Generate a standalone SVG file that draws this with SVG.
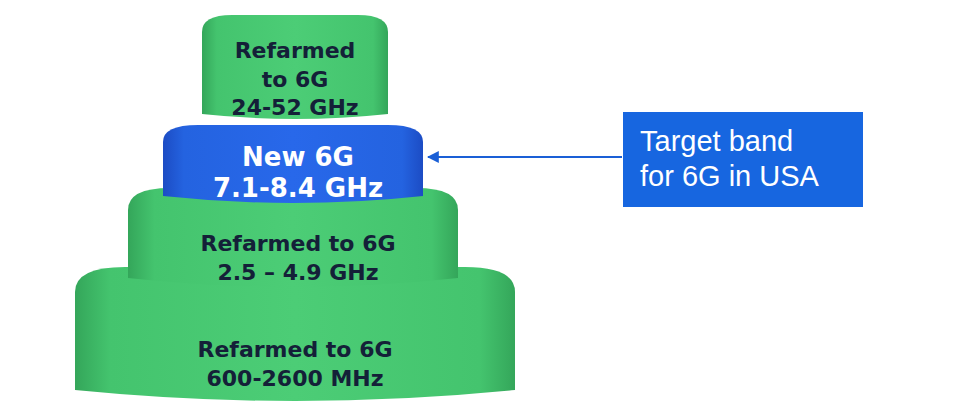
<svg xmlns="http://www.w3.org/2000/svg" width="974" height="420" viewBox="0 0 974 420">
<defs>
<linearGradient id="g" x1="0" x2="1" y1="0" y2="0">
<stop offset="0" stop-color="#34a65a"/><stop offset="0.08" stop-color="#44c46e"/><stop offset="0.5" stop-color="#4ccd76"/><stop offset="0.92" stop-color="#44c46e"/><stop offset="1" stop-color="#34a65a"/>
</linearGradient>
<linearGradient id="b" x1="0" x2="1" y1="0" y2="0">
<stop offset="0" stop-color="#1c4cc4"/><stop offset="0.08" stop-color="#2463e0"/><stop offset="0.5" stop-color="#2868ea"/><stop offset="0.92" stop-color="#2463e0"/><stop offset="1" stop-color="#1c4cc4"/>
</linearGradient>
<marker id="ah" viewBox="0 0 10 10" refX="9" refY="5" markerWidth="12" markerHeight="12" markerUnits="userSpaceOnUse" orient="auto">
<path d="M0,0 L10,5 L0,10 Z" fill="#1a5fd6"/>
</marker>
<style>
.dk{font-family:"DejaVu Sans",Verdana,sans-serif;font-weight:bold;font-size:22px;fill:#142038;text-anchor:middle}
.wt{font-family:"DejaVu Sans",Verdana,sans-serif;font-weight:bold;font-size:26px;fill:#ffffff;text-anchor:middle}
.bx{font-family:"Liberation Sans",Arial,sans-serif;font-size:29px;fill:#ffffff}
</style>
</defs>
<g id="tier4">
<path d="M75,292 Q75,267 125,267 L465,267 Q515,267 515,292 L515,390 Q295,412 75,390 Z" fill="url(#g)"/>
<text class="dk" x="295" y="357">Refarmed to 6G</text>
<text class="dk" x="295" y="386">600-2600 MHz</text>
</g>
<g id="tier3">
<path d="M128,210 Q128,188 170,188 L416,188 Q458,188 458,210 L458,278 Q293,296 128,278 Z" fill="url(#g)"/>
<text class="dk" x="298" y="251">Refarmed to 6G</text>
<text class="dk" x="298" y="280">2.5 – 4.9 GHz</text>
</g>
<g id="tier2">
<path d="M163,142 Q163,125 198,125 L388,125 Q423,125 423,142 L423,196 Q293,210 163,196 Z" fill="url(#b)"/>
<text class="wt" x="298" y="166">New 6G</text>
<text class="wt" x="298" y="197">7.1-8.4 GHz</text>
</g>
<g id="tier1">
<path d="M202,32 Q202,15 232,15 L358,15 Q388,15 388,32 L388,114 Q295,124 202,114 Z" fill="url(#g)"/>
<text class="dk" x="295" y="58">Refarmed</text>
<text class="dk" x="295" y="87">to 6G</text>
<text class="dk" x="295" y="115">24-52 GHz</text>
</g>
<g id="target">
<rect x="623" y="112" width="240" height="95" fill="#1766e0"/>
<text class="bx" x="640" y="151">Target band</text>
<text class="bx" x="640" y="186">for 6G in USA</text>
</g>
<g id="connectors">
<line x1="622" y1="157" x2="428" y2="157" stroke="#1a5fd6" stroke-width="2" marker-end="url(#ah)"/>
</g>
</svg>
